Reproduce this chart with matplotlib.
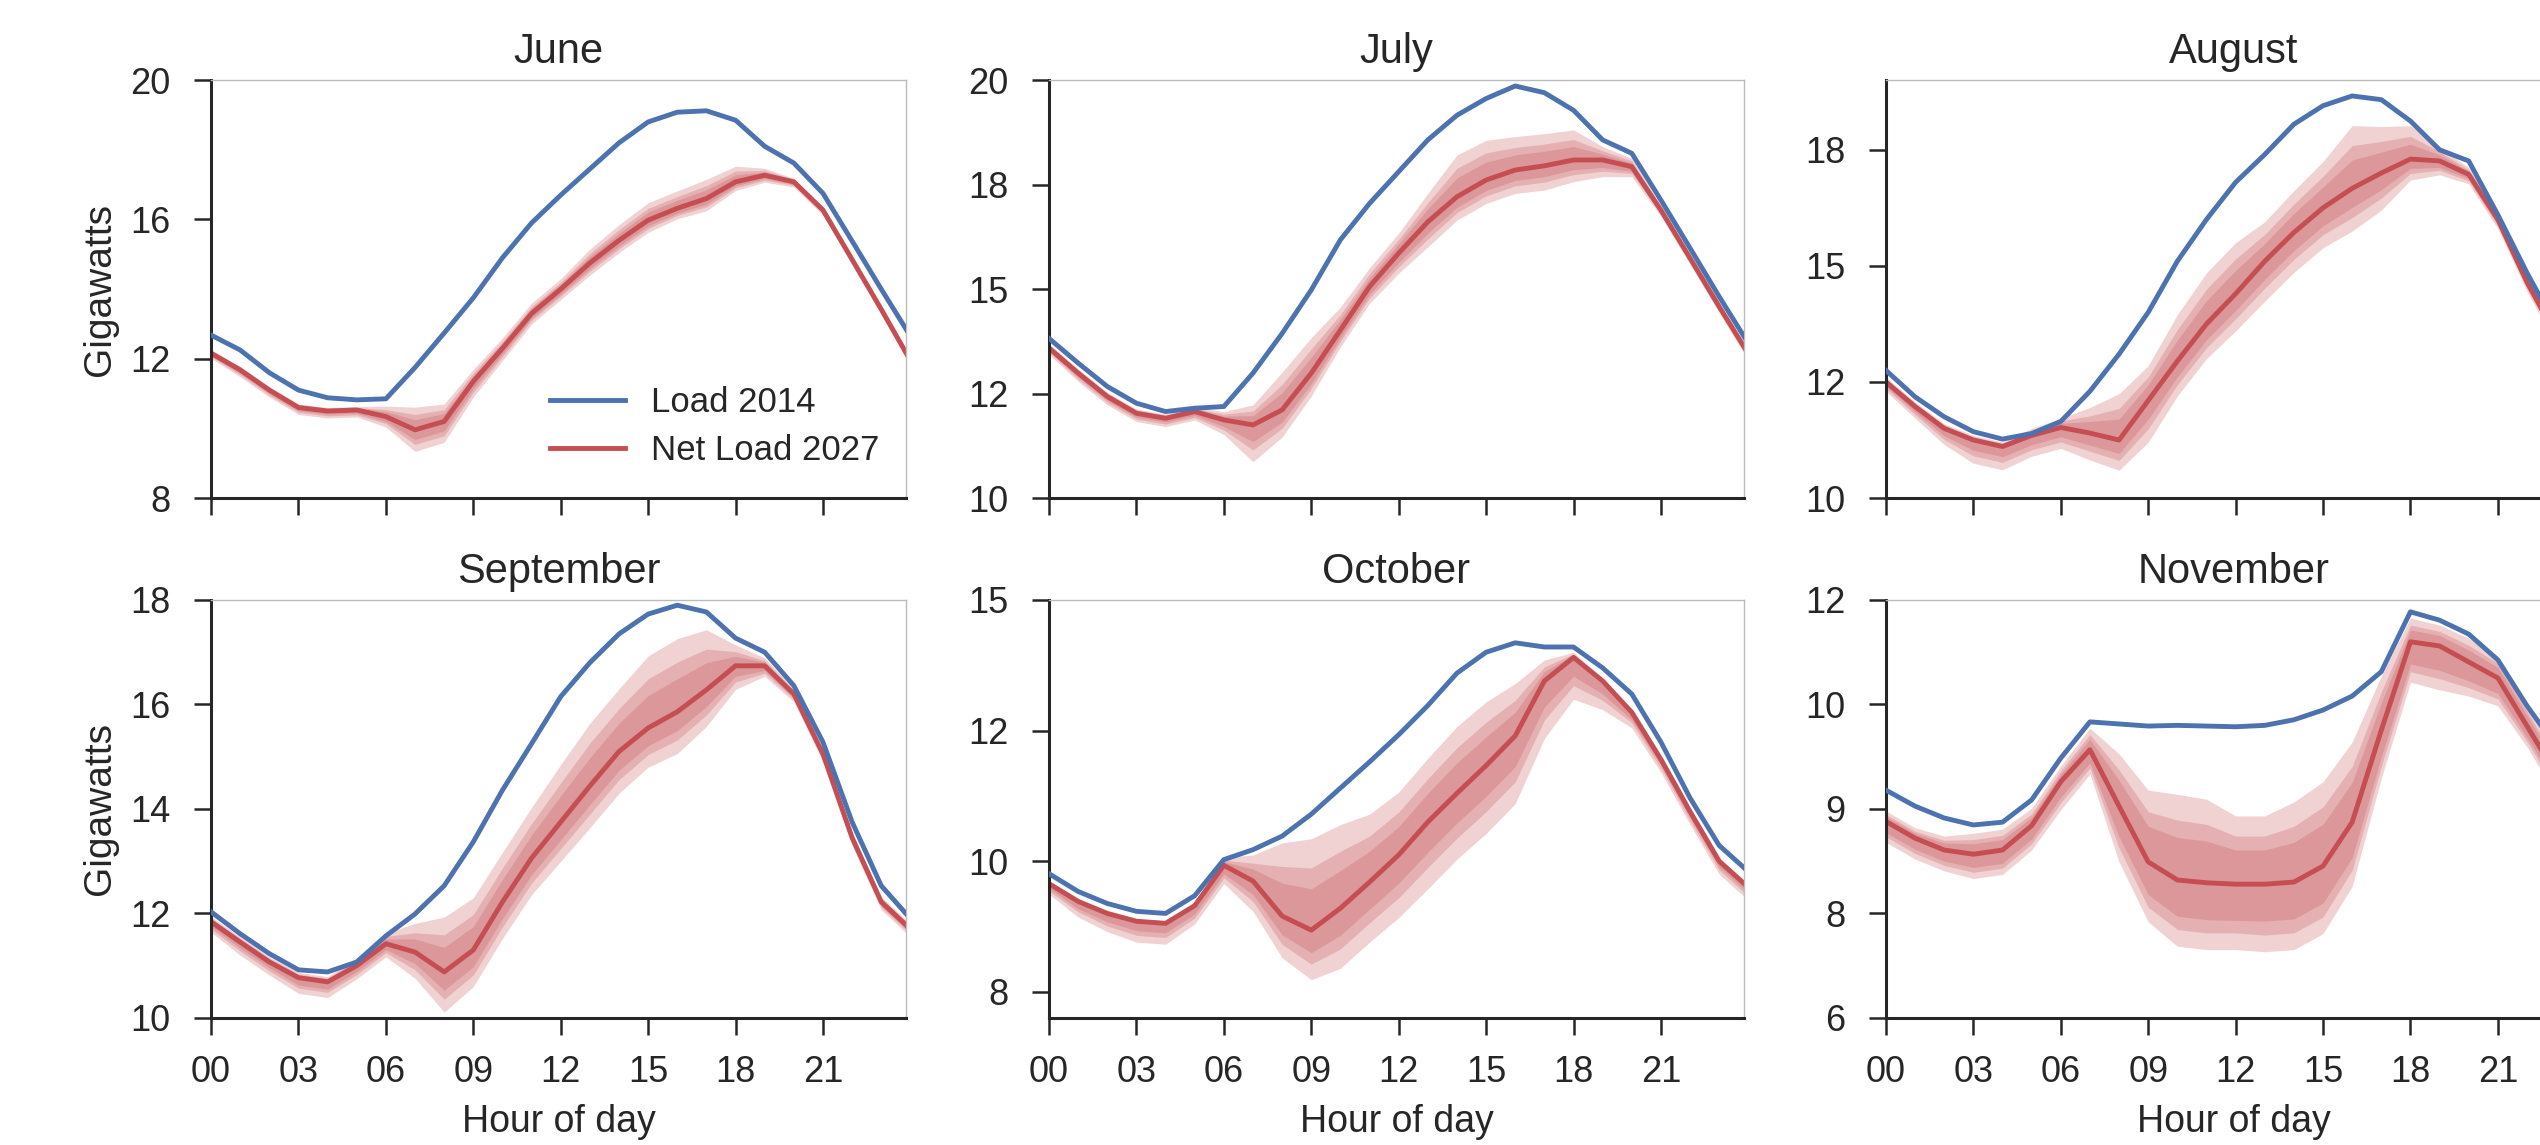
import numpy as np
import matplotlib
matplotlib.use('Agg')
import matplotlib.pyplot as plt
from matplotlib.ticker import FormatStrFormatter

plt.rcParams['font.family'] = ['Liberation Sans', 'DejaVu Sans']
plt.rcParams['text.color'] = '#262626'
plt.rcParams['axes.labelcolor'] = '#262626'
plt.rcParams['xtick.color'] = '#262626'
plt.rcParams['ytick.color'] = '#262626'

# hourly profiles, hour 0..24
hours = list(range(25))
hour_ticks = [0, 3, 6, 9, 12, 15, 18, 21]
hour_labels = ['00', '03', '06', '09', '12', '15', '18', '21']
month_names = ['June', 'July', 'August', 'September', 'October', 'November']

# June
jun_load = [12.68, 12.25, 11.6, 11.1, 10.88, 10.82, 10.85, 11.75, 12.74, 13.75, 14.9, 15.9, 16.7,
            17.45, 18.2, 18.8, 19.08, 19.12, 18.85, 18.1, 17.62, 16.75, 15.38, 14.0, 12.65]
jun_net = [12.16, 11.68, 11.1, 10.6, 10.5, 10.53, 10.34, 9.96, 10.2, 11.35, 12.3, 13.3, 14.0,
           14.75, 15.4, 15.98, 16.32, 16.6, 17.08, 17.27, 17.08, 16.27, 14.85, 13.42, 11.95]
jun_out_dn = [0.15, 0.2, 0.2, 0.2, 0.2, 0.2, 0.3, 0.62, 0.6, 0.45, 0.35, 0.3, 0.3, 0.35, 0.35, 0.35, 0.3, 0.35, 0.25, 0.2, 0.15, 0.15, 0.15, 0.15, 0.15]
jun_out_up = [0.1, 0.1, 0.1, 0.1, 0.1, 0.1, 0.3, 0.65, 0.5, 0.35, 0.3, 0.3, 0.3, 0.4, 0.45, 0.5, 0.5, 0.55, 0.45, 0.2, 0.1, 0.1, 0.1, 0.1, 0.1]
jun_mid_dn = [0.1, 0.14, 0.14, 0.14, 0.14, 0.14, 0.2, 0.42, 0.41, 0.31, 0.24, 0.2, 0.2, 0.24, 0.24, 0.24, 0.2, 0.24, 0.17, 0.14, 0.1, 0.1, 0.1, 0.1, 0.1]
jun_mid_up = [0.07, 0.07, 0.07, 0.07, 0.07, 0.07, 0.2, 0.44, 0.34, 0.24, 0.2, 0.2, 0.2, 0.27, 0.31, 0.34, 0.34, 0.37, 0.31, 0.14, 0.07, 0.07, 0.07, 0.07, 0.07]
jun_in_dn = [0.07, 0.09, 0.09, 0.09, 0.09, 0.09, 0.14, 0.28, 0.27, 0.2, 0.16, 0.14, 0.14, 0.16, 0.16, 0.16, 0.14, 0.16, 0.11, 0.09, 0.07, 0.07, 0.07, 0.07, 0.07]
jun_in_up = [0.05, 0.05, 0.05, 0.05, 0.05, 0.05, 0.14, 0.29, 0.23, 0.16, 0.14, 0.14, 0.14, 0.18, 0.2, 0.23, 0.23, 0.25, 0.2, 0.09, 0.05, 0.05, 0.05, 0.05, 0.05]

# July
jul_load = [13.82, 13.23, 12.67, 12.27, 12.07, 12.15, 12.19, 12.99, 13.94, 14.98, 16.18, 17.05, 17.81,
            18.57, 19.16, 19.56, 19.86, 19.7, 19.28, 18.57, 18.25, 17.13, 15.98, 14.82, 13.7]
jul_net = [13.59, 12.99, 12.43, 12.03, 11.91, 12.07, 11.87, 11.75, 12.11, 12.99, 14.02, 15.06, 15.86,
           16.61, 17.21, 17.61, 17.85, 17.95, 18.09, 18.09, 17.93, 16.89, 15.74, 14.58, 13.45]
jul_out_dn = [0.15, 0.2, 0.2, 0.2, 0.2, 0.2, 0.35, 0.88, 0.65, 0.55, 0.4, 0.4, 0.48, 0.6, 0.56, 0.56, 0.56, 0.58, 0.52, 0.4, 0.24, 0.15, 0.15, 0.15, 0.15]
jul_out_up = [0.1, 0.1, 0.1, 0.1, 0.1, 0.1, 0.2, 0.48, 0.9, 0.85, 0.55, 0.45, 0.48, 0.68, 1.0, 0.95, 0.8, 0.77, 0.72, 0.32, 0.2, 0.1, 0.1, 0.1, 0.1]
jul_mid_dn = [0.1, 0.14, 0.14, 0.14, 0.14, 0.14, 0.24, 0.6, 0.44, 0.37, 0.27, 0.27, 0.33, 0.41, 0.38, 0.38, 0.38, 0.39, 0.35, 0.27, 0.16, 0.1, 0.1, 0.1, 0.1]
jul_mid_up = [0.07, 0.07, 0.07, 0.07, 0.07, 0.07, 0.14, 0.33, 0.61, 0.58, 0.37, 0.31, 0.33, 0.46, 0.68, 0.65, 0.54, 0.52, 0.49, 0.22, 0.14, 0.07, 0.07, 0.07, 0.07]
jul_in_dn = [0.07, 0.09, 0.09, 0.09, 0.09, 0.09, 0.16, 0.4, 0.29, 0.25, 0.18, 0.18, 0.22, 0.27, 0.25, 0.25, 0.25, 0.26, 0.23, 0.18, 0.11, 0.07, 0.07, 0.07, 0.07]
jul_in_up = [0.05, 0.05, 0.05, 0.05, 0.05, 0.05, 0.09, 0.22, 0.41, 0.38, 0.25, 0.2, 0.22, 0.31, 0.45, 0.43, 0.36, 0.35, 0.32, 0.14, 0.09, 0.05, 0.05, 0.05, 0.05]

# August
aug_load = [12.75, 12.18, 11.75, 11.43, 11.27, 11.39, 11.65, 12.3, 13.1, 14.0, 15.1, 16.0, 16.8,
            17.4, 18.05, 18.45, 18.66, 18.58, 18.12, 17.5, 17.26, 16.1, 14.85, 13.7, 12.7]
aug_net = [12.5, 11.97, 11.5, 11.25, 11.11, 11.35, 11.52, 11.4, 11.25, 12.1, 12.95, 13.75, 14.4,
           15.1, 15.72, 16.25, 16.67, 17.0, 17.3, 17.26, 16.97, 16.0, 14.65, 13.5, 12.4]
aug_out_dn = [0.2, 0.25, 0.35, 0.5, 0.5, 0.45, 0.45, 0.58, 0.65, 0.9, 0.75, 0.75, 0.8, 0.86, 0.86, 0.86, 0.92, 0.8, 0.45, 0.3, 0.2, 0.2, 0.2, 0.2, 0.2]
aug_out_up = [0.1, 0.1, 0.1, 0.1, 0.1, 0.15, 0.2, 0.55, 1.0, 0.75, 1.0, 1.1, 1.1, 0.85, 0.9, 1.0, 1.35, 1.0, 0.72, 0.29, 0.15, 0.1, 0.1, 0.1, 0.1]
aug_mid_dn = [0.14, 0.17, 0.24, 0.34, 0.34, 0.31, 0.31, 0.39, 0.44, 0.61, 0.51, 0.51, 0.54, 0.58, 0.58, 0.58, 0.63, 0.54, 0.31, 0.2, 0.14, 0.14, 0.14, 0.14, 0.14]
aug_mid_up = [0.07, 0.07, 0.07, 0.07, 0.07, 0.1, 0.14, 0.37, 0.68, 0.51, 0.68, 0.75, 0.75, 0.58, 0.61, 0.68, 0.92, 0.68, 0.49, 0.2, 0.1, 0.07, 0.07, 0.07, 0.07]
aug_in_dn = [0.09, 0.11, 0.16, 0.22, 0.22, 0.2, 0.2, 0.26, 0.29, 0.4, 0.34, 0.34, 0.36, 0.39, 0.39, 0.39, 0.41, 0.36, 0.2, 0.14, 0.09, 0.09, 0.09, 0.09, 0.09]
aug_in_up = [0.05, 0.05, 0.05, 0.05, 0.05, 0.07, 0.09, 0.25, 0.45, 0.34, 0.45, 0.5, 0.5, 0.38, 0.41, 0.45, 0.61, 0.45, 0.32, 0.13, 0.07, 0.05, 0.05, 0.05, 0.05]

# September
sep_load = [12.03, 11.61, 11.23, 10.92, 10.88, 11.07, 11.57, 11.99, 12.53, 13.37, 14.36, 15.25, 16.15,
            16.8, 17.35, 17.73, 17.9, 17.77, 17.27, 17.0, 16.36, 15.28, 13.75, 12.53, 11.9]
sep_net = [11.84, 11.45, 11.07, 10.77, 10.69, 11.0, 11.42, 11.26, 10.88, 11.3, 12.22, 13.06, 13.75,
           14.44, 15.1, 15.55, 15.86, 16.28, 16.74, 16.74, 16.2, 15.05, 13.45, 12.22, 11.7]
sep_out_dn = [0.2, 0.25, 0.25, 0.3, 0.3, 0.25, 0.25, 0.5, 0.77, 0.7, 0.7, 0.7, 0.75, 0.8, 0.8, 0.75, 0.8, 0.7, 0.45, 0.2, 0.15, 0.15, 0.15, 0.15, 0.15]
sep_out_up = [0.1, 0.1, 0.1, 0.1, 0.1, 0.15, 0.2, 0.55, 1.05, 1.0, 0.95, 0.97, 1.1, 1.2, 1.2, 1.38, 1.4, 1.15, 0.4, 0.15, 0.1, 0.1, 0.1, 0.1, 0.1]
sep_mid_dn = [0.14, 0.17, 0.17, 0.2, 0.2, 0.17, 0.17, 0.34, 0.52, 0.48, 0.48, 0.48, 0.51, 0.54, 0.54, 0.51, 0.54, 0.48, 0.31, 0.14, 0.1, 0.1, 0.1, 0.1, 0.1]
sep_mid_up = [0.07, 0.07, 0.07, 0.07, 0.07, 0.1, 0.14, 0.37, 0.71, 0.68, 0.65, 0.66, 0.75, 0.82, 0.82, 0.94, 0.95, 0.78, 0.27, 0.1, 0.07, 0.07, 0.07, 0.07, 0.07]
sep_in_dn = [0.09, 0.11, 0.11, 0.14, 0.14, 0.11, 0.11, 0.22, 0.35, 0.32, 0.32, 0.32, 0.34, 0.36, 0.36, 0.34, 0.36, 0.32, 0.2, 0.09, 0.07, 0.07, 0.07, 0.07, 0.07]
sep_in_up = [0.05, 0.05, 0.05, 0.05, 0.05, 0.07, 0.09, 0.25, 0.47, 0.45, 0.43, 0.44, 0.5, 0.54, 0.54, 0.62, 0.63, 0.52, 0.18, 0.07, 0.05, 0.05, 0.05, 0.05, 0.05]

# October
oct_load = [9.76, 9.42, 9.19, 9.04, 9.0, 9.34, 10.03, 10.22, 10.48, 10.9, 11.4, 11.9, 12.42,
            12.98, 13.6, 14.0, 14.18, 14.1, 14.1, 13.7, 13.2, 12.28, 11.21, 10.3, 9.8]
oct_net = [9.57, 9.23, 9.0, 8.85, 8.81, 9.15, 9.92, 9.62, 8.95, 8.68, 9.1, 9.6, 10.12,
           10.75, 11.3, 11.83, 12.4, 13.45, 13.9, 13.45, 12.85, 11.95, 10.95, 10.0, 9.5]
oct_out_dn = [0.2, 0.3, 0.35, 0.4, 0.4, 0.35, 0.35, 0.58, 0.8, 0.95, 1.15, 1.15, 1.2, 1.28, 1.26, 1.3, 1.3, 1.1, 0.8, 0.55, 0.3, 0.25, 0.25, 0.25, 0.25]
oct_out_up = [0.05, 0.05, 0.05, 0.05, 0.05, 0.05, 0.15, 0.5, 1.4, 1.75, 1.6, 1.3, 1.2, 1.22, 1.28, 1.22, 1.0, 0.4, 0.1, 0.05, 0.05, 0.05, 0.05, 0.05, 0.05]
oct_mid_dn = [0.14, 0.2, 0.24, 0.27, 0.27, 0.24, 0.24, 0.39, 0.54, 0.65, 0.78, 0.78, 0.82, 0.87, 0.86, 0.88, 0.88, 0.75, 0.54, 0.37, 0.2, 0.17, 0.17, 0.17, 0.17]
oct_mid_up = [0.03, 0.03, 0.03, 0.03, 0.03, 0.03, 0.1, 0.34, 0.95, 1.19, 1.09, 0.88, 0.82, 0.83, 0.87, 0.83, 0.68, 0.27, 0.07, 0.03, 0.03, 0.03, 0.03, 0.03, 0.03]
oct_in_dn = [0.09, 0.14, 0.16, 0.18, 0.18, 0.16, 0.16, 0.26, 0.36, 0.43, 0.52, 0.52, 0.54, 0.58, 0.57, 0.59, 0.59, 0.5, 0.36, 0.25, 0.14, 0.11, 0.11, 0.11, 0.11]
oct_in_up = [0.02, 0.02, 0.02, 0.02, 0.02, 0.02, 0.07, 0.23, 0.63, 0.79, 0.72, 0.59, 0.54, 0.55, 0.58, 0.55, 0.45, 0.18, 0.05, 0.02, 0.02, 0.02, 0.02, 0.02, 0.02]

# November
nov_load = [9.27, 9.04, 8.87, 8.77, 8.81, 9.13, 9.73, 10.25, 10.22, 10.19, 10.2, 10.19, 10.18,
            10.2, 10.28, 10.42, 10.62, 10.97, 11.83, 11.71, 11.51, 11.14, 10.48, 9.9, 9.3]
nov_net = [8.82, 8.58, 8.41, 8.35, 8.41, 8.76, 9.39, 9.85, 9.04, 8.24, 7.98, 7.94, 7.92,
           7.92, 7.95, 8.18, 8.81, 10.13, 11.4, 11.34, 11.11, 10.88, 10.19, 9.5, 8.9]
nov_out_dn = [0.3, 0.3, 0.3, 0.35, 0.35, 0.35, 0.4, 0.35, 0.8, 0.86, 0.95, 0.96, 0.94, 0.97, 0.97, 0.97, 0.92, 0.69, 0.58, 0.63, 0.49, 0.4, 0.3, 0.3, 0.3]
nov_out_up = [0.15, 0.15, 0.2, 0.3, 0.3, 0.25, 0.23, 0.31, 0.75, 1.03, 1.23, 1.2, 0.98, 0.98, 1.15, 1.21, 1.15, 0.78, 0.34, 0.3, 0.34, 0.3, 0.3, 0.3, 0.3]
nov_mid_dn = [0.22, 0.22, 0.22, 0.26, 0.26, 0.26, 0.3, 0.26, 0.6, 0.65, 0.71, 0.72, 0.7, 0.73, 0.73, 0.73, 0.69, 0.52, 0.43, 0.47, 0.37, 0.3, 0.22, 0.22, 0.22]
nov_mid_up = [0.1, 0.1, 0.14, 0.21, 0.21, 0.17, 0.16, 0.22, 0.52, 0.72, 0.86, 0.84, 0.69, 0.69, 0.8, 0.85, 0.8, 0.55, 0.24, 0.21, 0.24, 0.21, 0.21, 0.21, 0.21]
nov_in_dn = [0.16, 0.16, 0.16, 0.19, 0.19, 0.19, 0.22, 0.19, 0.44, 0.47, 0.52, 0.53, 0.52, 0.53, 0.53, 0.53, 0.51, 0.38, 0.32, 0.35, 0.27, 0.22, 0.16, 0.16, 0.16]
nov_in_up = [0.07, 0.07, 0.1, 0.15, 0.15, 0.12, 0.11, 0.15, 0.37, 0.51, 0.61, 0.6, 0.49, 0.49, 0.57, 0.6, 0.57, 0.39, 0.17, 0.15, 0.17, 0.15, 0.15, 0.15, 0.15]

loads = [jun_load, jul_load, aug_load, sep_load, oct_load, nov_load]
nets = [jun_net, jul_net, aug_net, sep_net, oct_net, nov_net]
bands = [
    [(jun_out_dn, jun_out_up), (jun_mid_dn, jun_mid_up), (jun_in_dn, jun_in_up)],
    [(jul_out_dn, jul_out_up), (jul_mid_dn, jul_mid_up), (jul_in_dn, jul_in_up)],
    [(aug_out_dn, aug_out_up), (aug_mid_dn, aug_mid_up), (aug_in_dn, aug_in_up)],
    [(sep_out_dn, sep_out_up), (sep_mid_dn, sep_mid_up), (sep_in_dn, sep_in_up)],
    [(oct_out_dn, oct_out_up), (oct_mid_dn, oct_mid_up), (oct_in_dn, oct_in_up)],
    [(nov_out_dn, nov_out_up), (nov_mid_dn, nov_mid_up), (nov_in_dn, nov_in_up)],
]

# axis ranges and ticks per panel
ylims = [(8, 20), (10, 20), (10, 19), (10, 18), (7, 15), (6, 12)]
yticks = [[8, 12, 16, 20], [10, 12.5, 15, 17.5, 20], [10, 12.5, 15, 17.5],
          [10, 12, 14, 16, 18], [7.5, 10, 12.5, 15], [6, 7.5, 9, 10.5, 12]]

blue = '#4C72B0'
red = '#C44E52'

fig = plt.figure(figsize=(25.4, 11.45), dpi=100)
lefts = [0.0831, 0.413, 0.7425]
bottoms = [0.565, 0.111]
w, h = 0.2736, 0.365

for i, name in enumerate(month_names):
    row, col = i // 3, i % 3
    ax = fig.add_axes([lefts[col], bottoms[row], w, h])
    net = np.array(nets[i])
    for dn, up in bands[i]:
        ax.fill_between(hours, net - np.array(dn), net + np.array(up),
                        color=red, alpha=0.25, lw=0, zorder=1)
    ax.plot(hours, loads[i], color=blue, lw=3.5, label='Load 2014', zorder=3)
    ax.plot(hours, net, color=red, lw=3.5, label='Net Load 2027', zorder=2)

    ax.set_xlim(0, 23.85)
    ax.set_ylim(*ylims[i])
    ax.set_yticks(yticks[i])
    ax.yaxis.set_major_formatter(FormatStrFormatter('%.0f'))
    ax.set_xticks(hour_ticks)
    if row == 1:
        ax.set_xticklabels(hour_labels)
        ax.set_xlabel('Hour of day', fontsize=27, labelpad=10)
    else:
        ax.set_xticklabels([])
    if col == 0:
        ax.set_ylabel('Gigawatts', fontsize=28, labelpad=9)
    ax.set_title(name, fontsize=30, pad=12)

    ax.tick_params(direction='out', length=12, width=1.8, labelsize=26, pad=15,
                   top=False, right=False)
    ax.tick_params(axis='y', pad=17)
    for side in ['left', 'bottom']:
        ax.spines[side].set_color('#262626')
        ax.spines[side].set_linewidth(2.2)
    for side in ['top', 'right']:
        ax.spines[side].set_color('#bbbbbb')
        ax.spines[side].set_linewidth(1.0)

    if i == 0:
        ax.legend(loc='lower right', bbox_to_anchor=(1.006, 0.0), frameon=False, fontsize=25,
                  handlelength=2.16, handletextpad=0.75, labelspacing=0.43)

fig.savefig('out.png', dpi=100)
